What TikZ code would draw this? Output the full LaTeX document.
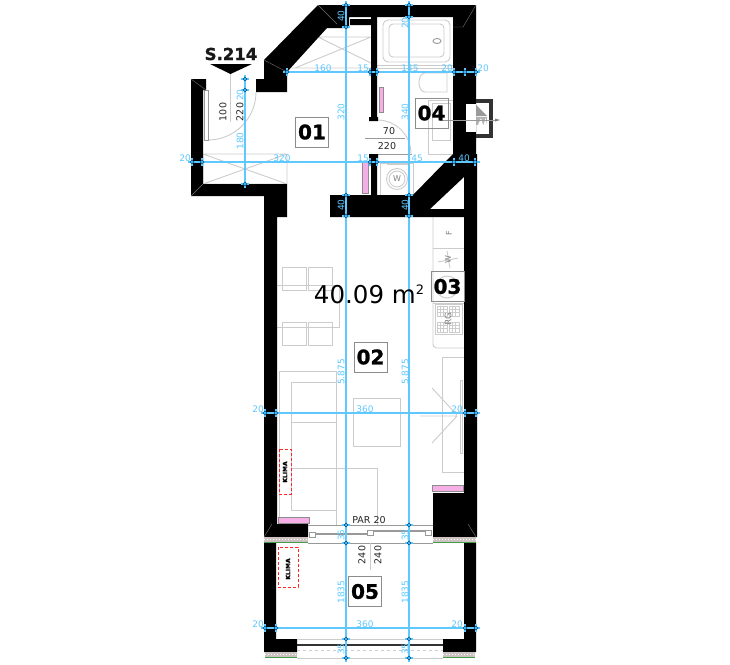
\documentclass[tikz,border=0pt]{standalone}
\usepackage{fontspec}
\setmainfont{DejaVu Sans}
\newfontfamily\tagfont[FakeBold=1.2]{DejaVu Sans Bold}
\definecolor{dimblue}{RGB}{95,200,255}
\definecolor{tickblue}{RGB}{0,95,150}
\definecolor{pinkstrip}{RGB}{245,175,230}
\definecolor{sillgreen}{RGB}{70,155,70}
\definecolor{sillgrey}{RGB}{205,195,195}
\tikzset{
  wall/.style={fill=black, draw=none},
  furn/.style={draw=black!20, line width=0.9pt},
  furndark/.style={draw=black!40, line width=0.9pt},
  strip/.style={draw=black!45, fill=pinkstrip, line width=0.6pt},
  dimline/.style={draw=dimblue, line width=1.1pt},
  dimtext/.style={text=dimblue, font=\fontsize{9}{10}\selectfont, inner sep=0pt},
  plantext/.style={text=black!85, font=\fontsize{9.5}{10}\selectfont, inner sep=0pt},
  roomtag/.style={draw=black!45, fill=white, line width=0.9pt, minimum width=33pt, minimum height=30pt, inner sep=0pt, font=\fontsize{20}{21}\tagfont},
  klima/.style={draw=red!85, densely dashed, line width=0.9pt},
  sill/.style={fill=sillgrey, draw=none},
  applabel/.style={text=black!50, font=\fontsize{8}{9}\selectfont, inner sep=0pt},
}
\newcommand{\htick}[2]{\draw[dimline] (#1,#2-4) -- (#1,#2+4); \draw[tickblue, line width=0.7pt] (#1,#2) circle[radius=1.8pt];}
\newcommand{\vtick}[2]{\draw[dimline] (#1-4,#2) -- (#1+4,#2); \draw[tickblue, line width=0.7pt] (#1,#2) circle[radius=1.8pt];}
\begin{document}
\begin{tikzpicture}[x=1pt, y=-1pt]
  \useasboundingbox[fill=white] (0,0) rectangle (730,664);

  % furniture
  \draw[furn] (203,154) rectangle (287,184) (203,154) -- (287,184) (203,184) -- (287,154);
  \draw[furn] (287,68) -- (371,68) (318,37) -- (371,37) (318,37) -- (371,63) (295,68) -- (371,37);
  \draw[furn] (377,68) -- (453,68) (377,65) -- (453,65);
  \draw[furn, rounded corners=5pt] (383,20) rectangle (450,62);
  \draw[furn, rounded corners=4pt] (389,24) rectangle (444,57);
  \draw[furndark] (437,41) ellipse[x radius=4pt, y radius=2.5pt];
  \draw[furn] (447,73) -- (425,73) .. controls (417,73) and (417,92) .. (425,92) -- (447,92) -- cycle;
  \draw[furn] (428,100) rectangle (453,154) (432,103) rectangle (450,140);
  \draw[furn] (380,163) rectangle (413,195) (387,161) rectangle (408,164);
  \draw[furn] (397,179) circle[radius=10.5pt] (397,179) circle[radius=8pt];
  \draw[furndark] (377,154) -- (412,154) (365,138) -- (405,138);
  \draw[furn] (377,120) .. controls (396,120) and (411,135) .. (411,154);
  \draw[furn] (208,140) .. controls (234.5,140) and (256,118.5) .. (256,92);
  \draw[furndark, fill=white] (204,90) rectangle (208,140);
  \draw[furn] (230,74) -- (230,122);

  % kitchen
  \draw[furn] (433,217) -- (433,342) .. controls (433,346) .. (436,348) -- (464,348);
  \draw[furn] (433,248) -- (464,248) (433,303) -- (464,303) (435,304) rectangle (462,334);
  \draw[furn] (447,287) circle[radius=11pt];
  \draw[furn] (438,262) -- (458,258) (447,251) -- (450,268);
  \foreach \bx/\by in {437/306, 449/306, 437/322, 449/322} {
    \draw[furn] (\bx,\by) rectangle (\bx+10,\by+10);
    \draw[furn, line width=0.5pt] (\bx+3.3,\by) -- (\bx+3.3,\by+10) (\bx+6.6,\by) -- (\bx+6.6,\by+10) (\bx,\by+3.3) -- (\bx+10,\by+3.3) (\bx,\by+6.6) -- (\bx+10,\by+6.6);
  }
  \draw[furn] (442,472) rectangle (464,357) (460,380) rectangle (462,453);
  \draw[furn] (432,388) -- (457,415) (420,416) -- (457,416) (432,443) -- (457,416);

  % table and sofa
  \draw[furn] (276,285) rectangle (339,327);
  \foreach \cx in {282,308}
    \draw[furn] (\cx,267) rectangle (\cx+24,290) (\cx,322) rectangle (\cx+24,345);
  \draw[furn] (279,517) -- (279,371) -- (336,371) -- (336,525);
  \draw[furn] (291,510) -- (291,382) -- (336,382) (291,422) -- (336,422) (291,510) -- (336,510);
  \draw[furn] (291,468) -- (377,468) -- (377,525);
  \draw[furn] (353,398) rectangle (400,446);

  % pink strips
  \draw[strip] (379,87) rectangle (383,112) (362,161) rectangle (368,193);
  \draw[strip] (432,485) rectangle (463,491) (278,517) rectangle (309,523);

  % walls
  \fill[wall] (318,5) -- (476,5) -- (476,154) -- (453,154) -- (453,17) -- (349,17) -- (349,28) -- (327,28) -- (287,72) -- (287,92) -- (256,92) -- (256,79) -- (264,79) -- (264,60) -- cycle;
  \fill[wall] (453,154) -- (477,154) -- (464,177) -- (430,209) -- (464,209) -- (464,154) -- (477,154) -- (477,537) -- (433,537) -- (433,493) -- (464,493) -- (464,217) -- (330,217) -- (330,195) -- (413,195) -- cycle;
  \fill[wall] (371,17) rectangle (377,120) (369,117) rectangle (378,121) (371,154) rectangle (377,195) (369,154) rectangle (378,159) (350,19) rectangle (371,25);
  \fill[wall] (191,79) -- (206,79) -- (206,90) -- (203,90) -- (203,184) -- (287,184) -- (287,217) -- (277,217) -- (277,524) -- (308,524) -- (308,537) -- (264,537) -- (264,196) -- (191,196) -- cycle;
  \fill[wall] (264,543) -- (276,543) -- (276,639) -- (297,639) -- (297,652) -- (264,652) -- cycle;
  \fill[wall] (476,543) -- (464,543) -- (464,639) -- (443,639) -- (443,652) -- (476,652) -- cycle;
  \draw[black!55, line width=0.4pt] (318,5) -- (337,24) (264,60) -- (287,72) (191,79) -- (206,90) (191,196) -- (203,184) (476,5) -- (463,27) -- (453,27) (264,537) -- (272,524) (476,537) -- (468,524);

  % sills
  \foreach \sx/\sy/\sw in {264/537/44, 433/537/43, 265/652/32, 443/652/32} {
    \fill[sill] (\sx,\sy) rectangle (\sx+\sw,\sy+5);
    \draw[white, line width=1pt, dotted] (\sx,\sy+2.5) -- (\sx+\sw,\sy+2.5);
    \draw[sillgreen, line width=1.2pt] (\sx,\sy+5.6) -- (\sx+\sw,\sy+5.6);
  }

  % window, balcony door, vent
  \draw[furndark] (308,525) -- (433,525) (308,543) -- (433,543);
  \draw[furndark, fill=white] (309,532) rectangle (315,537) (367,530) rectangle (373,535) (425,530) rectangle (431,535);
  \draw[black!40, line width=1.3pt] (315,534) -- (367,534) (373,531) -- (425,531);
  \draw[black!80, line width=1.1pt] (297,645) -- (443,645);
  \draw[furn, dashed] (297,650) -- (443,650);
  \draw[furn] (297,639) -- (443,639) (297,658) -- (443,658);
  \fill[white] (466,104) rectangle (476,132);
  \draw[black!80, line width=3.5pt] (476,101) -- (491,101) -- (491,136) -- (476,136);
  \fill[black!40] (476,105) -- (487,116) -- (476,116) -- cycle;
  \fill[black!30] (476,117) rectangle (487,125);
  \fill[white] (478,125) -- (481,118) -- (483,125) -- cycle (483.5,125) -- (485.5,118) -- (487,125) -- cycle;
  \draw[furndark, line width=0.6pt] (440,120) -- (495,120);
  \fill[black!50] (500,120) -- (495,118.5) -- (495,121.5) -- cycle;

  % dimension lines
  \draw[dimline] (283,72) -- (480,72);
  \draw[dimline] (188,162) -- (480,162);
  \draw[dimline] (261,413) -- (480,413);
  \draw[dimline] (261,628) -- (480,628);
  \draw[dimline] (346,1) -- (346,662);
  \draw[dimline] (409,1) -- (409,662);
  \draw[dimline] (245,75) -- (245,188);
  \foreach \tx in {287,370,377,454,465,476} {\htick{\tx}{72}}
  \foreach \tx in {192,202,370,377,454,475} {\htick{\tx}{162}}
  \foreach \tx in {265,276,465,476} {\htick{\tx}{413} \htick{\tx}{628}}
  \foreach \ty in {5,27,195,216,525,543,639,658} {\vtick{346}{\ty}}
  \foreach \ty in {5,17,195,216,525,543,639,658} {\vtick{409}{\ty}}
  \foreach \ty in {79,90,184} {\vtick{245}{\ty}}

  % dimension texts
  \foreach \lx/\ly/\lt in {323/68/160, 363/68/15, 410/68/145, 447/68/20, 483/68/20, 185/158/20, 282/158/320, 363/158/15, 417/158/45, 464/158/40, 258/409/20, 365/409/360, 457/409/20, 258/624/20, 365/624/360, 457/624/20}
    \node[dimtext] (dimh\lx\ly) at (\lx,\ly) {\lt};
  \foreach \lx/\ly/\lt in {341/16/40, 341/112/320, 341/205/40, 341/372/5.875, 341/535/35, 341/592/1835, 341/649/35, 405/23/20, 405/112/340, 405/205/40, 405/372/5.875, 405/535/35, 405/592/1835, 405/649/35, 240/95/20, 240/141/180}
    \node[dimtext, rotate=90] (dimv\lx\ly) at (\lx,\ly) {\lt};

  % texts
  \node[inner sep=0pt, font=\fontsize{16.5}{17}\tagfont, text=black!90] (tag214) at (231,54) {S.214};
  \fill[black] (210,64) -- (252,64) -- (230.5,74) -- cycle;
  \node[plantext, rotate=90] (doorw) at (223,112) {100};
  \node[plantext, rotate=90] (doorh) at (240,112) {220};
  \node[plantext] (bathw) at (389,131) {70};
  \node[plantext] (bathh) at (387,146) {220};
  \node[plantext] (par20) at (369,520) {PAR 20};
  \node[plantext, rotate=90] (balcw) at (362,555) {240};
  \node[plantext, rotate=90] (balch) at (378,555) {240};
  \draw[furn] (370,543) -- (370,570);
  \node[applabel, rotate=90] (fridge) at (449,233) {F};
  \node[applabel, rotate=90] (wash) at (448,260) {W};
  \node[applabel] (wcw) at (397,179) {W};

  % rooms
  \node[roomtag] (room01) at (312,132) {01};
  \node[roomtag, fill=none] (room04) at (431.5,113) {04};
  \node[roomtag, fill=none] (room03) at (447.5,286.5) {03};
  \node[roomtag] (room02) at (370.5,357) {02};
  \node[roomtag] (room05) at (365,591.5) {05};
  \node[applabel, rotate=90, font=\fontsize{9}{9}\selectfont] (range) at (448,319) {RG};
  \node[inner sep=0pt, font=\fontsize{24.5}{26}\selectfont] (area) at (369,294) {40.09 m\raisebox{0.65ex}{\fontsize{13}{14}\selectfont 2}};

  % air conditioners
  \draw[klima] (279,449) rectangle (291,494);
  \draw[klima] (278,547) rectangle (298,587);
  \node[inner sep=0pt, rotate=90, font=\fontsize{6}{7}\tagfont] (klima1) at (285,472) {KLIMA};
  \node[inner sep=0pt, rotate=90, font=\fontsize{6}{7}\tagfont] (klima2) at (288,569) {KLIMA};
\end{tikzpicture}
\end{document}
